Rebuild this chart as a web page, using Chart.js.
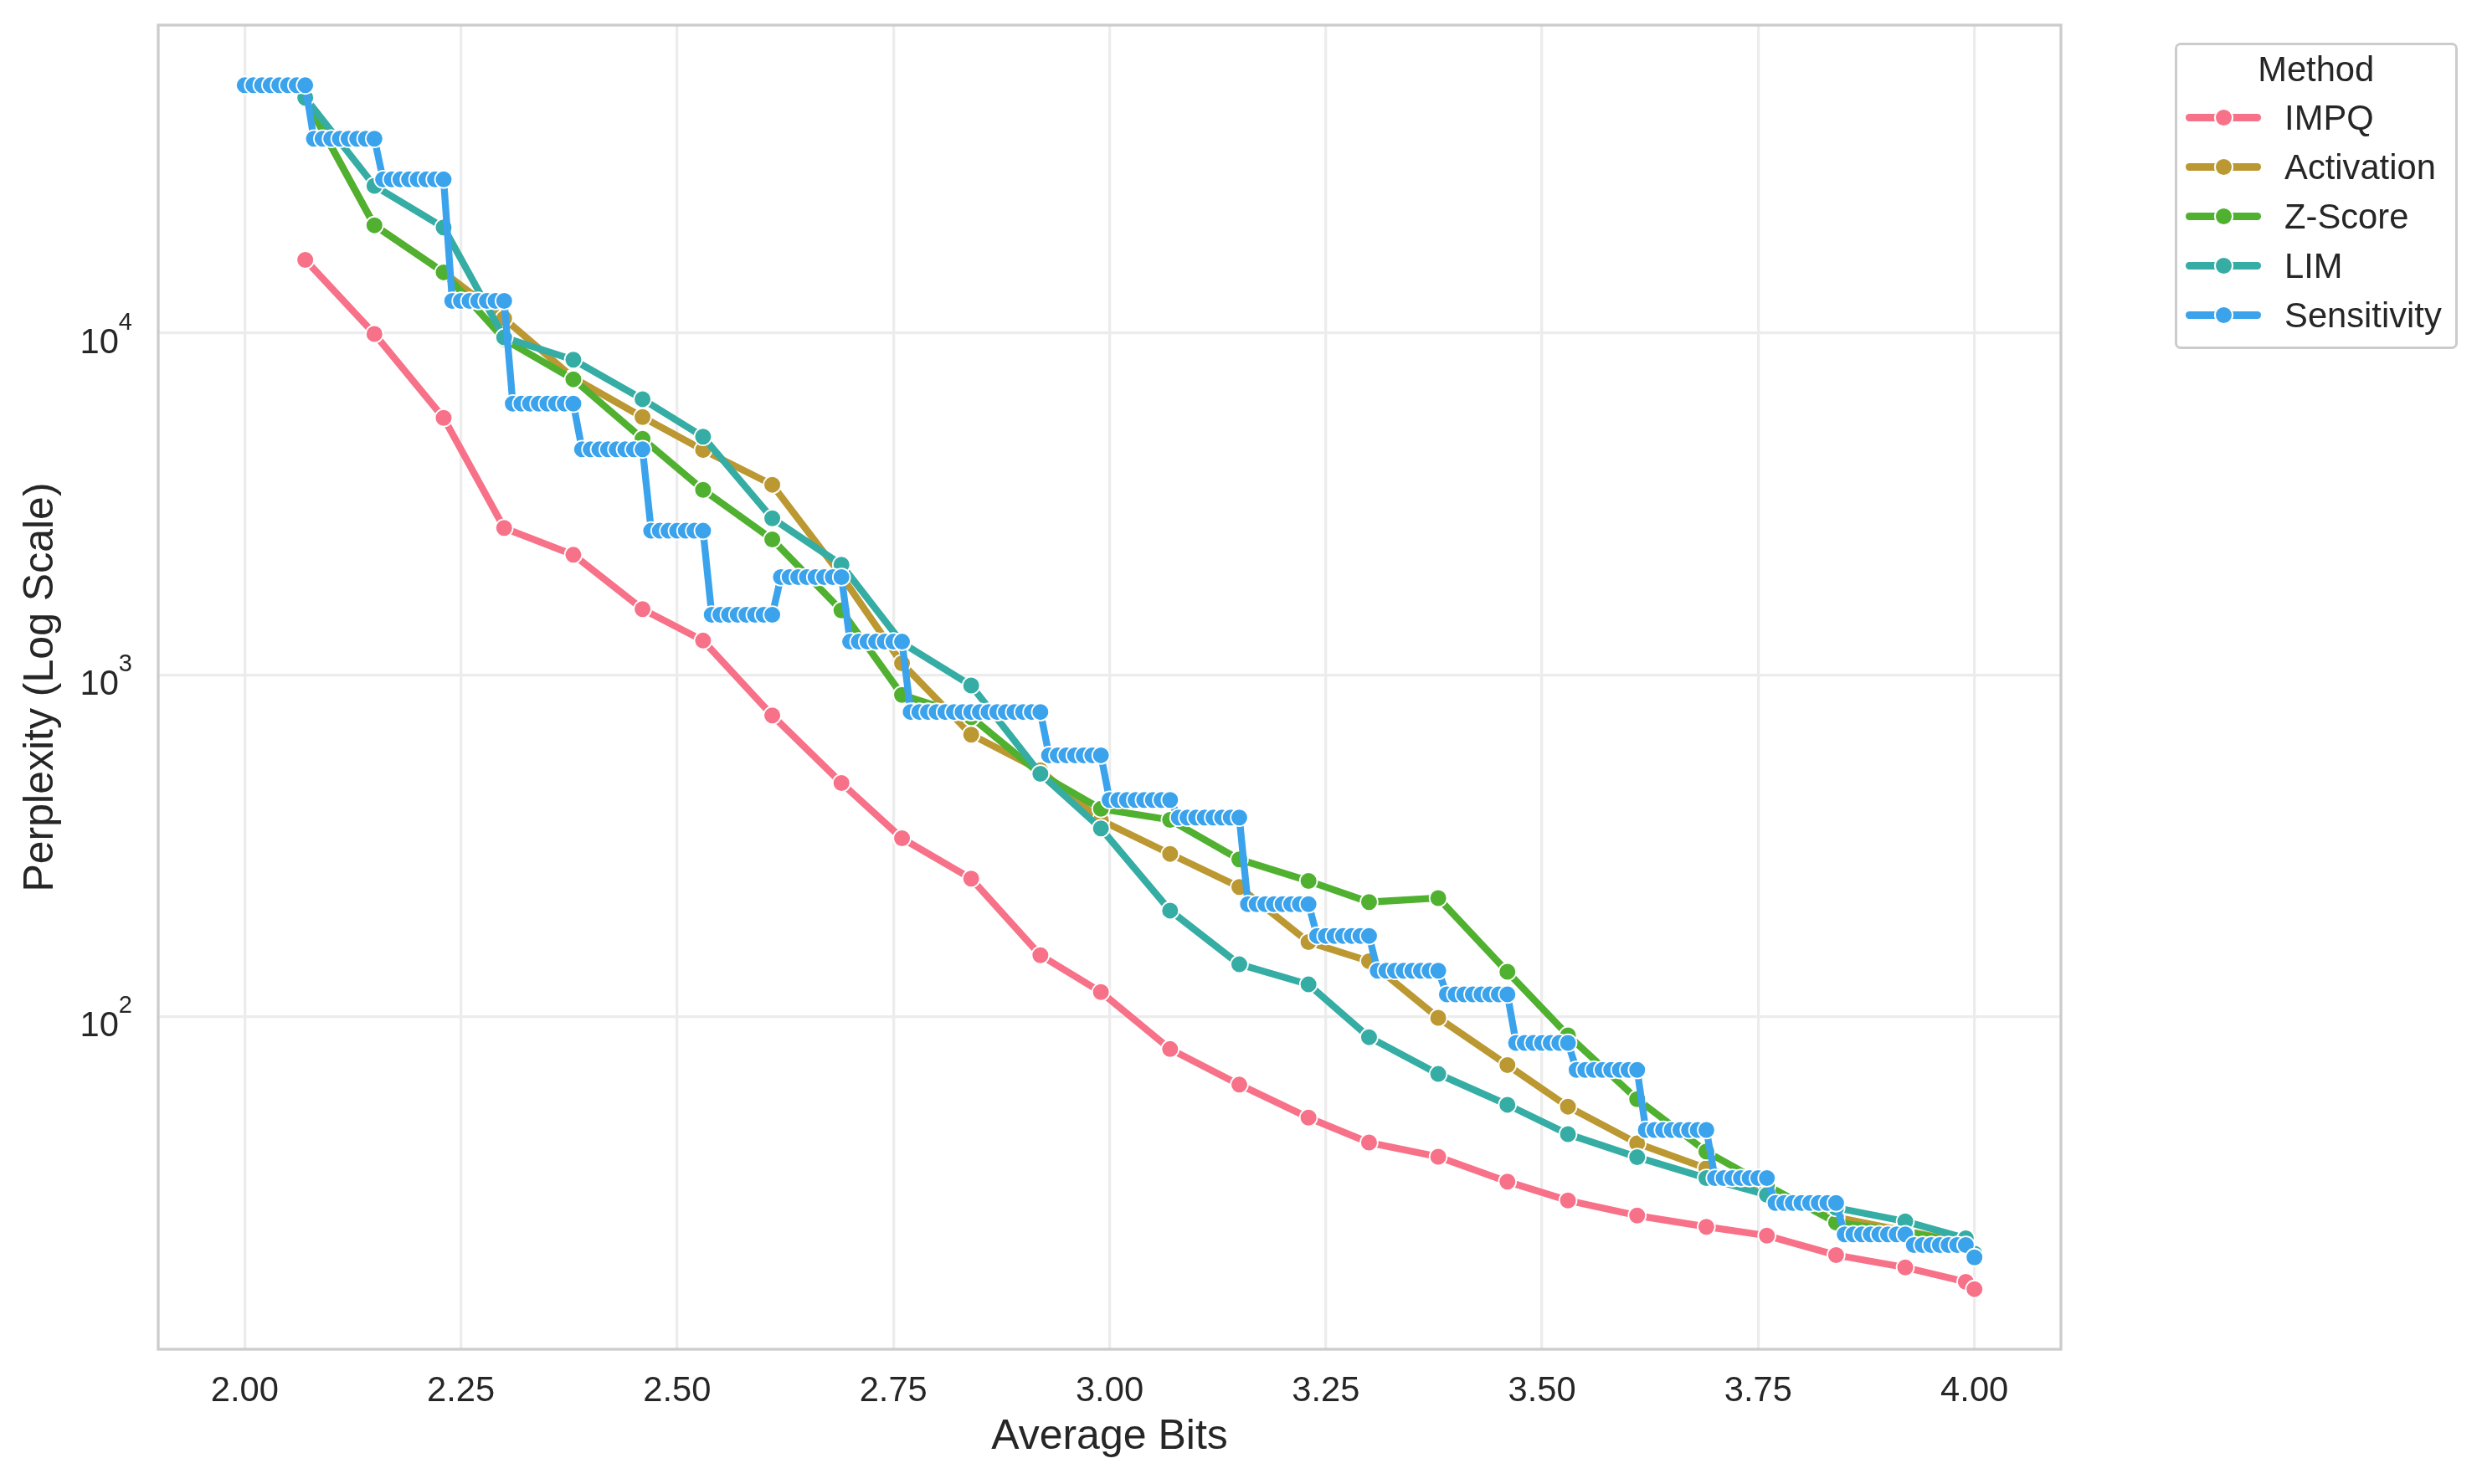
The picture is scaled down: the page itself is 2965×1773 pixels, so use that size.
<!DOCTYPE html>
<html>
<head>
<meta charset="utf-8">
<title>Perplexity vs Average Bits</title>
<script src="https://cdn.jsdelivr.net/npm/chart.js@4.4.1/dist/chart.umd.min.js"></script>
<style>
  html, body { margin: 0; padding: 0; background: #fff; overflow: hidden; }
  #wrap { position: relative; width: 2965px; height: 1773px; }
  #chart { position: absolute; left: 0; top: 0; }
  #legend {
    position: absolute; left: 2597.7px; top: 51px; width: 338px; height: 365.7px;
    box-sizing: border-box; border: 3.3px solid #cccccc; border-radius: 7px;
    background: rgba(255, 255, 255, 0.8);
    font-family: "Liberation Sans", Arial, Helvetica, sans-serif; font-size: 41.7px; color: #262626;
  }
  .legend-title { position: absolute; left: 0; right: 0; top: 3.6px; line-height: 50px; text-align: center; }
  .legend-row { position: absolute; left: 0; right: 0; height: 59px; line-height: 59px; }
  .handle-line { position: absolute; left: 10.7px; top: 25.35px; width: 90px; height: 8.3px; border-radius: 4.15px; }
  .handle-dot { position: absolute; left: 44.2px; top: 18px; width: 23px; height: 23px; box-sizing: border-box; border: 2px solid #fff; border-radius: 50%; }
  .legend-text { position: absolute; left: 128.4px; top: 0; white-space: nowrap; }
</style>
</head>
<body>
<div id="wrap">
  <canvas id="chart" width="2965" height="1773"></canvas>
  <div id="legend"></div>
</div>
<script>
// Average bits of the allocation steps shared by IMPQ / Activation / Z-Score / LIM
const methodBits = [2.07, 2.15, 2.23, 2.30, 2.38, 2.46, 2.53, 2.61, 2.69, 2.76, 2.84, 2.92, 2.99,
  3.07, 3.15, 3.23, 3.30, 3.38, 3.46, 3.53, 3.61, 3.69, 3.76, 3.84, 3.92, 3.99, 4.00];

const impqPpl = [16400, 9950, 5650, 2690, 2245, 1556, 1259, 760, 482, 332, 253, 151, 117.8,
  80.2, 63.1, 50.5, 42.7, 38.8, 32.8, 28.9, 26.1, 24.2, 22.8, 20.0, 18.4, 16.7, 15.9];
const activationPpl = [48500, 20700, 15070, 11040, 7400, 5680, 4550, 3600, 1950, 1080, 668, 525, 375,
  299, 239, 165, 145, 99, 72, 54.4, 42.5, 35.9, 30.8, 25.8, 23.5, 21.8, 19.7];
const zscorePpl = [48500, 20700, 15070, 9600, 7330, 4910, 3480, 2490, 1543, 873, 752, 512, 405,
  376, 288, 249, 216, 222, 135, 88, 57.2, 40.2, 32.0, 24.9, 23.4, 21.6, 19.7];
const limPpl = [48900, 27000, 20400, 9720, 8360, 6410, 4975, 2870, 2100, 1240, 930, 513, 355,
  204, 142, 124, 86.9, 67.8, 55.1, 45.2, 38.7, 33.6, 30.0, 27.5, 25.1, 22.4, 20.2];

// Sensitivity is evaluated on a finer grid (one row per plateau)
const sensBits = [
  2.00, 2.01, 2.02, 2.03, 2.04, 2.05, 2.06, 2.07,
  2.08, 2.09, 2.10, 2.11, 2.12, 2.13, 2.14, 2.15,
  2.16, 2.17, 2.18, 2.19, 2.20, 2.21, 2.22, 2.23,
  2.24, 2.25, 2.26, 2.27, 2.28, 2.29, 2.30,
  2.31, 2.32, 2.33, 2.34, 2.35, 2.36, 2.37, 2.38,
  2.39, 2.40, 2.41, 2.42, 2.43, 2.44, 2.45, 2.46,
  2.47, 2.48, 2.49, 2.50, 2.51, 2.52, 2.53,
  2.54, 2.55, 2.56, 2.57, 2.58, 2.59, 2.60, 2.61,
  2.62, 2.63, 2.64, 2.65, 2.66, 2.67, 2.68, 2.69,
  2.70, 2.71, 2.72, 2.73, 2.74, 2.75, 2.76,
  2.77, 2.78, 2.79, 2.80, 2.81, 2.82, 2.83, 2.84,
  2.85, 2.86, 2.87, 2.88, 2.89, 2.90, 2.91, 2.92,
  2.93, 2.94, 2.95, 2.96, 2.97, 2.98, 2.99,
  3.00, 3.01, 3.02, 3.03, 3.04, 3.05, 3.06, 3.07,
  3.08, 3.09, 3.10, 3.11, 3.12, 3.13, 3.14, 3.15,
  3.16, 3.17, 3.18, 3.19, 3.20, 3.21, 3.22, 3.23,
  3.24, 3.25, 3.26, 3.27, 3.28, 3.29, 3.30,
  3.31, 3.32, 3.33, 3.34, 3.35, 3.36, 3.37, 3.38,
  3.39, 3.40, 3.41, 3.42, 3.43, 3.44, 3.45, 3.46,
  3.47, 3.48, 3.49, 3.50, 3.51, 3.52, 3.53,
  3.54, 3.55, 3.56, 3.57, 3.58, 3.59, 3.60, 3.61,
  3.62, 3.63, 3.64, 3.65, 3.66, 3.67, 3.68, 3.69,
  3.70, 3.71, 3.72, 3.73, 3.74, 3.75, 3.76,
  3.77, 3.78, 3.79, 3.80, 3.81, 3.82, 3.83, 3.84,
  3.85, 3.86, 3.87, 3.88, 3.89, 3.90, 3.91, 3.92,
  3.93, 3.94, 3.95, 3.96, 3.97, 3.98, 3.99,
  4.00
];
const sensPpl = [
  53200, 53200, 53200, 53200, 53200, 53200, 53200, 53200,
  37100, 37100, 37100, 37100, 37100, 37100, 37100, 37100,
  28200, 28200, 28200, 28200, 28200, 28200, 28200, 28200,
  12430, 12430, 12430, 12430, 12430, 12430, 12430,
  6220, 6220, 6220, 6220, 6220, 6220, 6220, 6220,
  4570, 4570, 4570, 4570, 4570, 4570, 4570, 4570,
  2640, 2640, 2640, 2640, 2640, 2640, 2640,
  1498, 1498, 1498, 1498, 1498, 1498, 1498, 1498,
  1932, 1932, 1932, 1932, 1932, 1932, 1932, 1932,
  1250, 1250, 1250, 1250, 1250, 1250, 1250,
  778, 778, 778, 778, 778, 778, 778, 778,
  778, 778, 778, 778, 778, 778, 778, 778,
  581, 581, 581, 581, 581, 581, 581,
  430, 430, 430, 430, 430, 430, 430, 430,
  382, 382, 382, 382, 382, 382, 382, 382,
  213, 213, 213, 213, 213, 213, 213, 213,
  172, 172, 172, 172, 172, 172, 172,
  136, 136, 136, 136, 136, 136, 136, 136,
  116, 116, 116, 116, 116, 116, 116, 116,
  83.6, 83.6, 83.6, 83.6, 83.6, 83.6, 83.6,
  69.7, 69.7, 69.7, 69.7, 69.7, 69.7, 69.7, 69.7,
  46.5, 46.5, 46.5, 46.5, 46.5, 46.5, 46.5, 46.5,
  33.6, 33.6, 33.6, 33.6, 33.6, 33.6, 33.6,
  28.4, 28.4, 28.4, 28.4, 28.4, 28.4, 28.4, 28.4,
  23.0, 23.0, 23.0, 23.0, 23.0, 23.0, 23.0, 23.0,
  21.4, 21.4, 21.4, 21.4, 21.4, 21.4, 21.4,
  19.7
];

const xTicks = [2.00, 2.25, 2.50, 2.75, 3.00, 3.25, 3.50, 3.75, 4.00];
const yTicks = [100, 1000, 10000];

const FONT = '"Liberation Sans", Arial, Helvetica, sans-serif';
const TEXT = '#262626';
const GRID = '#ececec';

Chart.defaults.font.family = FONT;
Chart.defaults.color = TEXT;

function toPoints(xs, ys) {
  return xs.map((x, i) => ({ x: x, y: ys[i] }));
}

function lineDataset(label, color, points, order) {
  return {
    label: label,
    data: points,
    order: order, // later methods sit on top, like the original plot
    borderColor: color,
    backgroundColor: color,
    borderWidth: 8.3,
    borderJoinStyle: 'round',
    tension: 0,
    fill: false,
    pointRadius: 10.4,
    pointBorderWidth: 1.8,
    pointBackgroundColor: color,
    pointBorderColor: '#ffffff'
  };
}

/** Draws 10^n tick labels with a raised exponent. */
const powerLabels = {
  id: 'powerLabels',
  afterDraw(chart) {
    const scale = chart.scales.y;
    const ctx = chart.ctx;
    ctx.save();
    ctx.fillStyle = TEXT;
    ctx.textAlign = 'right';
    ctx.textBaseline = 'alphabetic';
    scale.ticks.forEach(tick => {
      const y = scale.getPixelForValue(tick.value);
      const exp = String(Math.round(Math.log10(tick.value)));
      ctx.font = '29px ' + FONT;
      const supWidth = ctx.measureText(exp).width;
      ctx.fillText(exp, 158, y - 4);
      ctx.font = '41.7px ' + FONT;
      ctx.fillText('10', 158 - supWidth, y + 24);
    });
    ctx.restore();
  }
};

/** Full box around the plot area. */
const frame = {
  id: 'frame',
  afterDraw(chart) {
    const { ctx, chartArea } = chart;
    ctx.save();
    ctx.strokeStyle = '#cccccc';
    ctx.lineWidth = 3.3;
    ctx.strokeRect(chartArea.left, chartArea.top, chartArea.right - chartArea.left, chartArea.bottom - chartArea.top);
    ctx.restore();
  }
};

/** Builds the "Method" legend box from the datasets. */
const htmlLegend = {
  id: 'htmlLegend',
  afterUpdate(chart) {
    const box = document.getElementById('legend');
    box.innerHTML = '<div class="legend-title">Method</div>';
    chart.data.datasets.forEach((ds, i) => {
      const row = document.createElement('div');
      row.className = 'legend-row';
      row.style.top = (56.9 + 59 * i) + 'px';
      row.innerHTML =
        '<span class="handle-line" style="background:' + ds.borderColor + '"></span>' +
        '<span class="handle-dot" style="background:' + ds.borderColor + '"></span>' +
        '<span class="legend-text">' + ds.label + '</span>';
      box.appendChild(row);
    });
  }
};

new Chart(document.getElementById('chart'), {
  type: 'line',
  data: {
    datasets: [
      lineDataset('IMPQ', '#f77189', toPoints(methodBits, impqPpl), 4),
      lineDataset('Activation', '#bb9832', toPoints(methodBits, activationPpl), 3),
      lineDataset('Z-Score', '#50b131', toPoints(methodBits, zscorePpl), 2),
      lineDataset('LIM', '#36ada4', toPoints(methodBits, limPpl), 1),
      lineDataset('Sensitivity', '#3ba3ec', toPoints(sensBits, sensPpl), 0)
    ]
  },
  options: {
    responsive: false,
    devicePixelRatio: 1,
    animation: false,
    events: [],
    layout: { autoPadding: false, padding: { top: 30, right: 503, bottom: 0, left: 0 } },
    plugins: {
      legend: { display: false },
      tooltip: { enabled: false }
    },
    scales: {
      x: {
        type: 'linear',
        min: 1.9,
        max: 4.1,
        afterBuildTicks: scale => { scale.ticks = xTicks.map(v => ({ value: v })); },
        afterFit: scale => { scale.height = 161; },
        grid: { color: GRID, lineWidth: 3.3, drawTicks: false },
        border: { display: false },
        ticks: {
          font: { size: 41.7 },
          color: TEXT,
          padding: 25,
          maxRotation: 0,
          autoSkip: false,
          callback: value => Number(value).toFixed(2)
        },
        title: {
          display: true,
          text: 'Average Bits',
          font: { size: 50 },
          color: TEXT,
          padding: { top: 0, bottom: 26 }
        }
      },
      y: {
        type: 'logarithmic',
        min: 10.6,
        max: 79800,
        afterBuildTicks: scale => { scale.ticks = yTicks.map(v => ({ value: v, major: true })); },
        afterFit: scale => { scale.width = 189; },
        grid: { color: GRID, lineWidth: 3.3, drawTicks: false },
        border: { display: false },
        ticks: { display: false },
        title: {
          display: true,
          text: 'Perplexity (Log Scale)',
          font: { size: 50 },
          color: TEXT,
          padding: { top: 19.5, bottom: 0 }
        }
      }
    }
  },
  plugins: [powerLabels, frame, htmlLegend]
});
</script>
</body>
</html>
